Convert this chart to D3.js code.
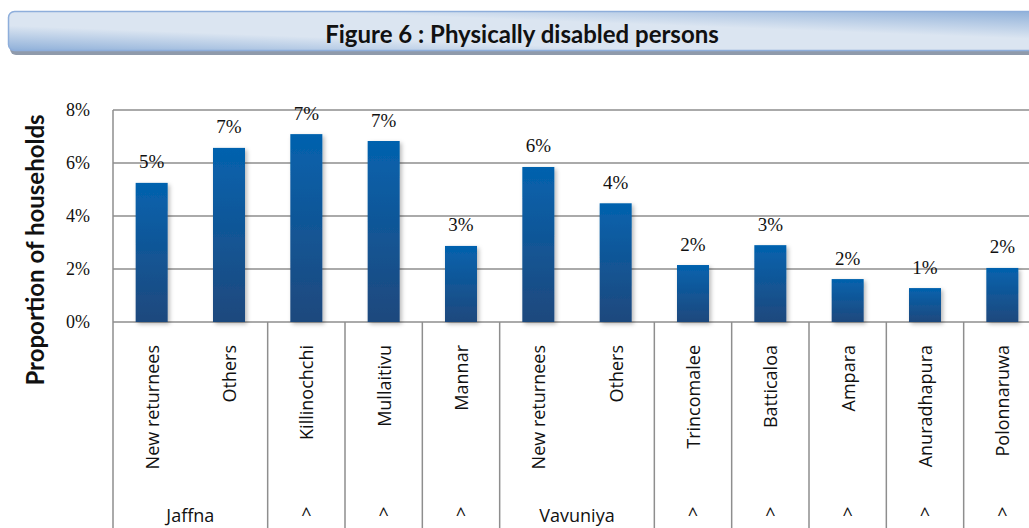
<!DOCTYPE html>
<html>
  <head>
    <title>Figure 6 : Physically disabled persons</title>
    <script src="https://cdn.jsdelivr.net/npm/d3@7/dist/d3.min.js"></script>
    <style>
      body { margin: 0; background: #fff; }
      svg { display: block; }
    </style>
  </head>
  <body>
    <svg width="1029" height="528"></svg>
    <script>
      // data
      const categories = ['New returnees', 'Others', 'Killinochchi', 'Mullaitivu', 'Mannar',
                          'New returnees', 'Others', 'Trincomalee', 'Batticaloa', 'Ampara',
                          'Anuradhapura', 'Polonnaruwa'];
      const values = [0.0525, 0.0657, 0.0709, 0.0683, 0.0287, 0.0585, 0.0448, 0.0215, 0.029, 0.0162, 0.0128, 0.0204];
      const groupNames = ['Jaffna', '^', '^', '^', 'Vavuniya', '^', '^', '^', '^', '^'];
      const groupSizes = [2, 1, 1, 1, 2, 1, 1, 1, 1, 1];
      const yTicks = [0, 0.02, 0.04, 0.06, 0.08];
      const title = 'Figure 6 : Physically disabled persons';
      const yTitle = 'Proportion of households';

      const svg = d3.select('svg');
      const width = +svg.attr('width');
      const height = +svg.attr('height');
      const plot = {left: 113, top: 110, bottom: 322, right: 1041};

      const xScale = d3.scaleBand()
        .domain(d3.range(categories.length))
        .range([plot.left, plot.right])
        .paddingInner(0.586)
        .paddingOuter(0.293);
      const yScale = d3.scaleLinear()
        .domain([0, 0.08])
        .range([plot.bottom, plot.top]);
      const step = xScale.step();

      const defs = svg.append('defs');

      // title banner
      const bannerGrad = defs.append('linearGradient')
        .attr('id', 'banner')
        .attr('x1', 0).attr('y1', 1).attr('x2', 1).attr('y2', 0);
      bannerGrad.append('stop').attr('offset', '0%').attr('stop-color', '#8fb0d9');
      bannerGrad.append('stop').attr('offset', '32%').attr('stop-color', '#dbe5f1');
      bannerGrad.append('stop').attr('offset', '64%').attr('stop-color', '#dbe5f1');
      bannerGrad.append('stop').attr('offset', '100%').attr('stop-color', '#8fb0d9');

      svg.append('rect')
        .attr('x', 10).attr('y', 15)
        .attr('width', 1040).attr('height', 40)
        .attr('rx', 6)
        .attr('fill', '#8f9aab');
      svg.append('rect')
        .attr('x', 8.5).attr('y', 11.5)
        .attr('width', 1040).attr('height', 39)
        .attr('rx', 6)
        .attr('fill', 'url(#banner)')
        .attr('stroke', '#8eaedb')
        .attr('stroke-width', 1.5);
      svg.append('text')
        .attr('x', 522).attr('y', 33)
        .attr('text-anchor', 'middle')
        .attr('dominant-baseline', 'central')
        .style('font-family', 'Lato, sans-serif')
        .style('font-weight', 'bold')
        .style('font-size', '24px')
        .attr('fill', '#111')
        .text(title);

      // gridlines + y tick labels
      const gridG = svg.append('g');
      gridG.selectAll('line')
        .data(yTicks)
        .enter().append('line')
        .attr('x1', plot.left).attr('x2', width)
        .attr('y1', d => yScale(d)).attr('y2', d => yScale(d))
        .attr('stroke', '#8e8e8e')
        .attr('stroke-width', 1.5);
      gridG.selectAll('text')
        .data(yTicks)
        .enter().append('text')
        .attr('x', 90)
        .attr('y', d => yScale(d))
        .attr('text-anchor', 'end')
        .attr('dominant-baseline', 'central')
        .style('font-family', '"Liberation Serif", serif')
        .style('font-size', '18px')
        .attr('fill', '#111')
        .text(d3.format('.0%'));

      // left axis line runs down through the category area
      svg.append('line')
        .attr('x1', plot.left).attr('x2', plot.left)
        .attr('y1', plot.top).attr('y2', height)
        .attr('stroke', '#8e8e8e')
        .attr('stroke-width', 1.5);

      // group dividers
      let acc = 0;
      const groups = groupNames.map((name, i) => {
        const g = {name: name, start: acc, size: groupSizes[i]};
        acc += groupSizes[i];
        return g;
      });
      svg.append('g').selectAll('line')
        .data(groups.slice(1))
        .enter().append('line')
        .attr('x1', d => plot.left + d.start * step)
        .attr('x2', d => plot.left + d.start * step)
        .attr('y1', plot.bottom).attr('y2', height)
        .attr('stroke', '#8e8e8e')
        .attr('stroke-width', 1.5);

      // bars
      const barGrad = defs.append('linearGradient')
        .attr('id', 'bar')
        .attr('x1', 0).attr('y1', 0).attr('x2', 0).attr('y2', 1);
      barGrad.append('stop').attr('offset', '0%').attr('stop-color', '#0462ae');
      barGrad.append('stop').attr('offset', '100%').attr('stop-color', '#1f497d');

      const shadow = defs.append('filter')
        .attr('id', 'shadow')
        .attr('x', '-20%').attr('y', '-10%')
        .attr('width', '160%').attr('height', '130%');
      shadow.append('feDropShadow')
        .attr('dx', 2).attr('dy', 2)
        .attr('stdDeviation', 2)
        .attr('flood-color', '#000')
        .attr('flood-opacity', 0.28);

      svg.append('g').selectAll('rect')
        .data(values)
        .enter().append('rect')
        .attr('x', (d, i) => xScale(i))
        .attr('y', d => yScale(d))
        .attr('width', xScale.bandwidth())
        .attr('height', d => yScale(0) - yScale(d))
        .attr('fill', 'url(#bar)')
        .attr('filter', 'url(#shadow)');

      // value labels
      svg.append('g').selectAll('text')
        .data(values)
        .enter().append('text')
        .attr('x', (d, i) => xScale(i) + xScale.bandwidth() / 2)
        .attr('y', d => yScale(d) - 21)
        .attr('text-anchor', 'middle')
        .attr('dominant-baseline', 'central')
        .style('font-family', '"Liberation Serif", serif')
        .style('font-size', '19px')
        .attr('fill', '#111')
        .text(d3.format('.0%'));

      // rotated category labels
      svg.append('g').selectAll('text')
        .data(categories)
        .enter().append('text')
        .attr('transform', (d, i) => `translate(${xScale(i) + xScale.bandwidth() / 2},345) rotate(-90)`)
        .attr('text-anchor', 'end')
        .attr('dominant-baseline', 'central')
        .style('font-family', '"Open Sans", sans-serif')
        .style('font-size', '18px')
        .attr('fill', '#111')
        .text(d => d);

      // group labels (bottom row, sits right at the picture's edge)
      svg.append('g').selectAll('text')
        .data(groups)
        .enter().append('text')
        .attr('x', d => plot.left + (d.start + d.size / 2) * step)
        .attr('y', d => d.name === '^' ? 514 : 515)
        .attr('text-anchor', 'middle')
        .attr('dominant-baseline', 'central')
        .style('font-family', '"Open Sans", sans-serif')
        .style('font-size', '18px')
        .attr('fill', '#111')
        .text(d => d.name);

      // y axis title
      svg.append('text')
        .attr('transform', 'translate(34,250) rotate(-90)')
        .attr('text-anchor', 'middle')
        .attr('dominant-baseline', 'central')
        .style('font-family', 'Lato, sans-serif')
        .style('font-weight', 'bold')
        .style('font-size', '24px')
        .attr('fill', '#111')
        .text(yTitle);
    </script>
  </body>
</html>
